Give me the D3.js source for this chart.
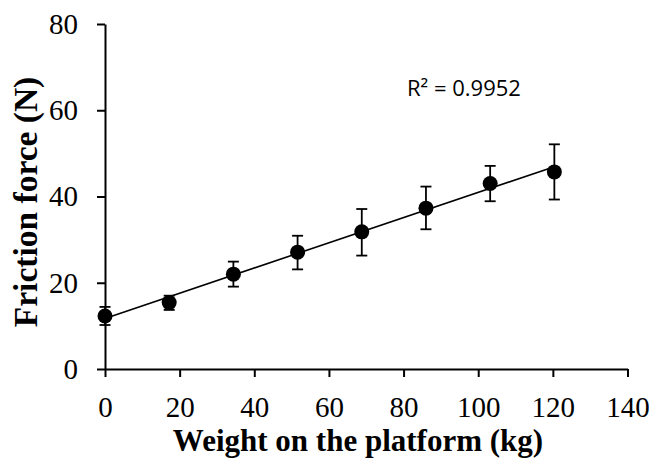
<!DOCTYPE html>
<html>
<head>
<meta charset="utf-8">
<script src="https://cdn.jsdelivr.net/npm/d3@7"></script>
<style>
  html, body { margin: 0; padding: 0; background: #fff; }
  svg { display: block; }
</style>
</head>
<body>
<svg id="chart" width="653" height="459"></svg>
<script>
// Load on the platform (kg) and measured friction force (N)
const weights = [0, 17.2, 34.4, 51.6, 68.8, 86, 103.2, 120.4];
const forces = [12.3, 15.4, 22.0, 27.1, 31.8, 37.3, 43.0, 45.7];
const errLow = [10.2, 13.7, 19.1, 23.1, 26.3, 32.4, 38.9, 39.3];
const errHigh = [14.4, 17.0, 24.9, 30.9, 37.1, 42.3, 47.1, 52.1];
const xTicks = [0, 20, 40, 60, 80, 100, 120, 140];
const yTicks = [0, 20, 40, 60, 80];
const rSquaredLabel = "R² = 0.9952";

const svg = d3.select("#chart");
const x = d3.scaleLinear().domain([0, 140]).range([105, 627.5]);
const y = d3.scaleLinear().domain([0, 80]).range([369, 24]);

const tickFont = "'Liberation Serif', 'Times New Roman', serif";

// X axis
const gx = svg.append("g")
  .attr("transform", `translate(0,${y(0)})`)
  .call(d3.axisBottom(x).tickValues(xTicks).tickSize(8).tickSizeOuter(0).tickPadding(19));
// Y axis
const gy = svg.append("g")
  .attr("transform", `translate(${x(0)},0)`)
  .call(d3.axisLeft(y).tickValues(yTicks).tickSize(8).tickSizeOuter(0).tickPadding(19));

[gx, gy].forEach(g => {
  g.select(".domain").attr("stroke", "#000").attr("stroke-width", 2);
  g.selectAll(".tick line").attr("stroke", "#000").attr("stroke-width", 2);
  g.selectAll(".tick text")
    .attr("fill", "#000")
    .style("font-family", tickFont)
    .style("font-size", "29px");
});

// Least-squares trend line through the measurements
const n = weights.length;
const mx = d3.mean(weights), my = d3.mean(forces);
let sxy = 0, sxx = 0;
for (let i = 0; i < n; i++) {
  sxy += (weights[i] - mx) * (forces[i] - my);
  sxx += (weights[i] - mx) ** 2;
}
const slope = sxy / sxx;
const intercept = my - slope * mx;
const xMin = d3.min(weights), xMax = d3.max(weights);
svg.append("line")
  .attr("x1", x(xMin)).attr("y1", y(intercept + slope * xMin))
  .attr("x2", x(xMax)).attr("y2", y(intercept + slope * xMax))
  .attr("stroke", "#000").attr("stroke-width", 1.6);

// Error bars
const data = weights.map((w, i) => ({ w, f: forces[i], lo: errLow[i], hi: errHigh[i] }));
const capHalf = 5.5;
const eb = svg.append("g").attr("stroke", "#000").attr("stroke-width", 1.8);
eb.selectAll(".stem").data(data).join("line")
  .attr("x1", d => x(d.w)).attr("x2", d => x(d.w))
  .attr("y1", d => y(d.lo)).attr("y2", d => y(d.hi));
eb.selectAll(".capHi").data(data).join("line")
  .attr("x1", d => x(d.w) - capHalf).attr("x2", d => x(d.w) + capHalf)
  .attr("y1", d => y(d.hi)).attr("y2", d => y(d.hi));
eb.selectAll(".capLo").data(data).join("line")
  .attr("x1", d => x(d.w) - capHalf).attr("x2", d => x(d.w) + capHalf)
  .attr("y1", d => y(d.lo)).attr("y2", d => y(d.lo));

// Data points
svg.append("g").selectAll("circle").data(data).join("circle")
  .attr("cx", d => x(d.w)).attr("cy", d => y(d.f))
  .attr("r", 7.5).attr("fill", "#000");

// Coefficient of determination
svg.append("text")
  .attr("x", 407).attr("y", 96)
  .style("font-family", "'Open Sans', 'Noto Sans', sans-serif")
  .style("font-size", "22px")
  .attr("fill", "#000")
  .text(rSquaredLabel);

// Axis titles
svg.append("text")
  .attr("x", 358).attr("y", 451)
  .attr("text-anchor", "middle")
  .style("font-family", tickFont)
  .style("font-size", "31px")
  .style("font-weight", "bold")
  .attr("fill", "#000")
  .text("Weight on the platform (kg)");

svg.append("text")
  .attr("transform", "translate(37,202) rotate(-90)")
  .attr("text-anchor", "middle")
  .style("font-family", tickFont)
  .style("font-size", "33.5px")
  .style("font-weight", "bold")
  .attr("fill", "#000")
  .text("Friction force (N)");
</script>
</body>
</html>
